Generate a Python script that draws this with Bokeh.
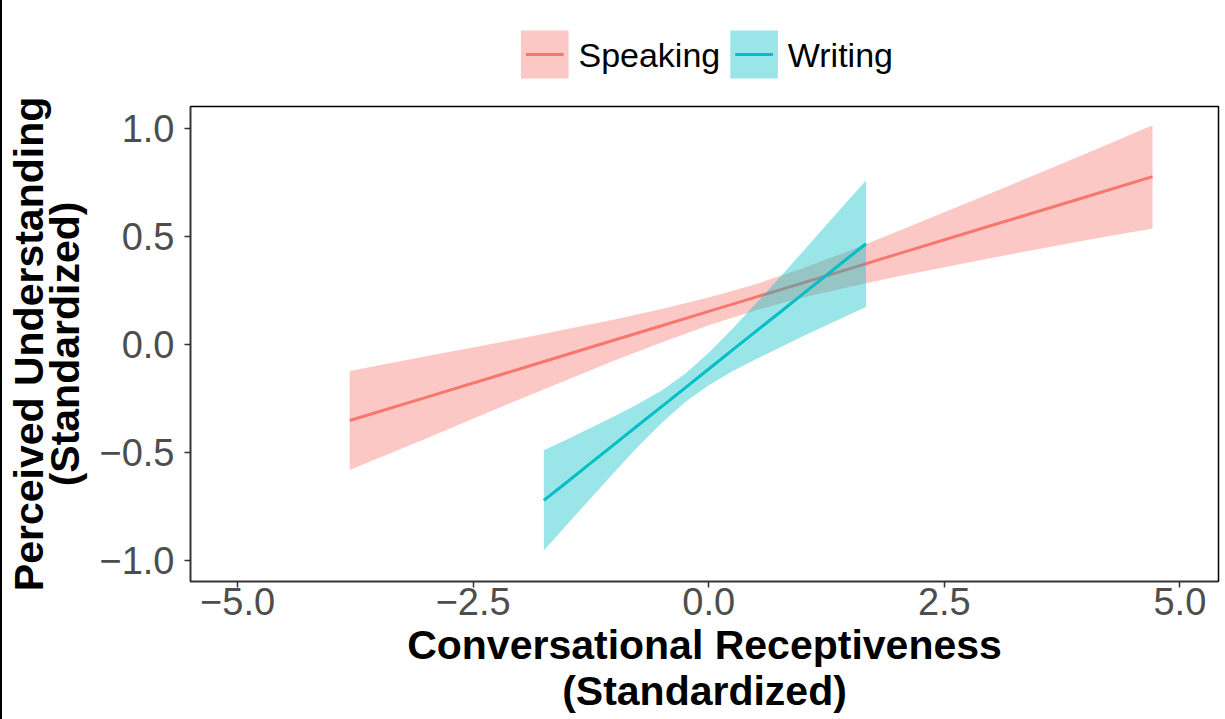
from bokeh.plotting import figure
from bokeh.models import Range1d, FixedTicker, Div
from bokeh.layouts import row, column
from bokeh.core.properties import value
from bokeh.embed import file_html
from bokeh.resources import INLINE

# ---- data ----
speak_x = [-3.81, -3.0, -2.0, -1.0, -0.5, 0.0, 0.5, 1.0, 1.5, 2.0, 3.0, 4.0, 4.71]
speak_fit = [-0.351, -0.244, -0.112, 0.021, 0.087, 0.153, 0.219, 0.285, 0.351, 0.418, 0.550, 0.682, 0.776]
speak_lo = [-0.580, -0.434, -0.252, -0.074, 0.010, 0.089, 0.159, 0.217, 0.267, 0.314, 0.400, 0.482, 0.536]
speak_hi = [-0.122, -0.054, 0.028, 0.116, 0.164, 0.217, 0.279, 0.353, 0.435, 0.522, 0.700, 0.882, 1.013]

write_x = [-1.75, -1.5, -1.25, -1.0, -0.75, -0.5, -0.25, 0.0, 0.25, 0.5, 0.75, 1.0, 1.25, 1.5, 1.67]
write_fit = [-0.720, -0.634, -0.547, -0.460, -0.373, -0.287, -0.200, -0.113, -0.026, 0.061, 0.147, 0.234, 0.321, 0.408, 0.466]
write_lo = [-0.952, -0.830, -0.709, -0.589, -0.471, -0.362, -0.265, -0.188, -0.124, -0.068, -0.015, 0.038, 0.089, 0.140, 0.174]
write_hi = [-0.488, -0.438, -0.385, -0.331, -0.275, -0.212, -0.135, -0.038, 0.072, 0.190, 0.309, 0.430, 0.553, 0.676, 0.758]

x_ticks = [-5.0, -2.5, 0.0, 2.5, 5.0]
x_tick_labels = ["\u22125.0", "\u22122.5", "0.0", "2.5", "5.0"]
y_ticks = [-1.0, -0.5, 0.0, 0.5, 1.0]
y_tick_labels = ["\u22121.0", "\u22120.5", "0.0", "0.5", "1.0"]

series_names = ["Speaking", "Writing"]
series_colors = ["#F8766D", "#00BFC4"]

FONT = "Liberation Sans"
W = 1211          # canvas width (a 2px page-edge rule sits to its left)
FRAME_W = 1028
LEG_H = 98        # height of the legend strip

# ---------------- main plot ----------------
p = figure(frame_width=FRAME_W, frame_height=475,
           x_range=Range1d(-5.5, 5.41), y_range=Range1d(-1.095, 1.10),
           output_backend="svg", toolbar_location=None,
           min_border_left=0, min_border_right=3, min_border_top=8,
           min_border_bottom=0)
p.grid.visible = False
p.background_fill_color = "white"
p.border_fill_color = "white"
p.outline_line_color = "black"
p.outline_line_width = 1.5

p.varea(x=speak_x, y1=speak_lo, y2=speak_hi, fill_color=series_colors[0], fill_alpha=0.4)
p.line(speak_x, speak_fit, line_color=series_colors[0], line_width=3)
p.varea(x=write_x, y1=write_lo, y2=write_hi, fill_color=series_colors[1], fill_alpha=0.4)
p.line(write_x, write_fit, line_color=series_colors[1], line_width=3)

for ax in (p.xaxis[0], p.yaxis[0]):
    ax.axis_line_color = "#333333"
    ax.axis_line_width = 1.5
    ax.major_tick_line_color = "#333333"
    ax.major_tick_line_width = 1.5
    ax.major_tick_out = 6
    ax.major_tick_in = 0
    ax.minor_tick_line_color = None
    ax.major_label_text_font = FONT
    ax.major_label_text_font_size = "38px"
    ax.major_label_text_color = "#4D4D4D"
    ax.axis_label_text_font = FONT
    ax.axis_label_text_font_size = "41px"
    ax.axis_label_text_font_style = "bold"
    ax.axis_label_text_color = "black"

p.xaxis.axis_label_text_line_height = 1.0
p.yaxis.axis_label_text_line_height = 0.8
p.xaxis.ticker = FixedTicker(ticks=x_ticks)
p.xaxis.major_label_overrides = dict(zip(x_ticks, x_tick_labels))
p.yaxis.ticker = FixedTicker(ticks=y_ticks)
p.yaxis.major_label_overrides = dict(zip(y_ticks, y_tick_labels))
p.xaxis.axis_label = "Conversational Receptiveness\n(Standardized)"
p.yaxis.axis_label = "Perceived Understanding\n(Standardized)"
p.xaxis.major_label_standoff = 0
p.yaxis.major_label_standoff = 10
p.xaxis.axis_label_standoff = 4
p.yaxis.axis_label_standoff = 8

# ---------------- legend strip (pixel units, frame aligned with the plot) ----------------
lf = figure(width=W, height=LEG_H, x_range=Range1d(0, FRAME_W), y_range=Range1d(0, LEG_H),
            x_axis_location=None, y_axis_location=None,
            output_backend="svg", toolbar_location=None, min_border=0)
lf.grid.visible = False
lf.outline_line_color = None
key_left = [333, 544]
key_size = 48
key_bottom = 20
lf.quad(left=key_left, right=[k + key_size for k in key_left],
        bottom=[key_bottom] * 2, top=[key_bottom + key_size] * 2,
        fill_color=series_colors, fill_alpha=0.4, line_color=None)
lf.segment(x0=[k + 5 for k in key_left], x1=[k + key_size - 5 for k in key_left],
           y0=[key_bottom + key_size / 2] * 2, y1=[key_bottom + key_size / 2] * 2,
           line_color=series_colors, line_width=3)
lf.text(x=[k + key_size + 10 for k in key_left], y=[key_bottom + key_size / 2] * 2,
        text=series_names, text_font=value(FONT), text_font_size="34px",
        text_color="black", text_baseline="middle", text_align="left")

edge = Div(text="", width=2, height=719, margin=0,
           styles={"background-color": "black"})

layout = row(edge, column(lf, p, spacing=0), spacing=0)
open("out.html", "w").write(file_html(layout, INLINE))
